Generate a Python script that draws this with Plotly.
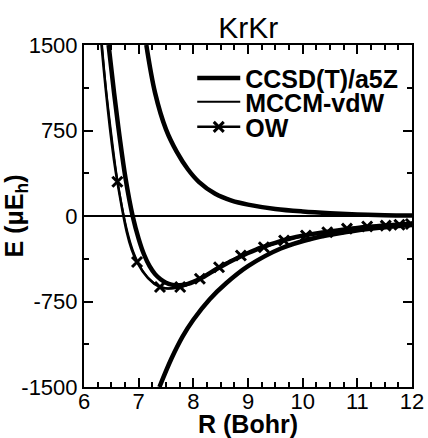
import plotly.graph_objects as go

# CCSD(T)/a5Z (thick)
R_ccsd = [6.45, 6.55, 6.65, 6.76, 6.89, 7.0, 7.1, 7.2, 7.3, 7.4, 7.5, 7.6, 7.7, 7.8, 7.9, 8.0,
          8.2, 8.4, 8.6, 8.8, 9.0, 9.25, 9.5, 9.75, 10.0, 10.5, 11.0, 11.5, 12.0]
E_ccsd = [1500, 1080, 700, 330, 0, -200, -340, -440, -510, -555, -585, -602, -608, -605, -595, -578,
          -530, -472, -418, -370, -325, -275, -235, -200, -172, -135, -105, -84, -68]

# MCCM-vdW (thin)
R_mccm = [6.33, 6.4, 6.5, 6.6, 6.7, 6.8, 6.9, 7.0, 7.1, 7.2, 7.3, 7.4, 7.5, 7.6, 7.7, 7.8, 7.9, 8.0,
          8.2, 8.4, 8.6, 8.8, 9.0, 9.25, 9.5, 9.75, 10.0, 10.5, 11.0, 11.5, 12.0]
E_mccm = [1500, 1130, 720, 350, 70, -150, -310, -420, -500, -555, -595, -620, -633, -636, -632, -620, -603, -583,
          -535, -478, -423, -373, -330, -280, -238, -203, -174, -135, -105, -84, -68]

# OW (line with x markers)
R_ow = [6.25, 6.61, 6.97, 7.39, 7.76, 8.12, 8.47, 8.87, 9.29, 9.66, 10.06, 10.45, 10.81, 11.18, 11.52, 11.77, 11.98]
E_ow = [1880, 300, -404, -623, -623, -550, -450, -347, -274, -215, -171, -142, -111, -92, -84, -77, -70]

# repulsive component (thick, no legend)
R_rep = [7.14, 7.3, 7.5, 7.7, 7.9, 8.1, 8.4, 8.7, 9.0, 9.5, 10.0, 10.5, 11.0, 11.5, 12.0]
E_rep = [1500, 1080, 760, 560, 410, 300, 195, 135, 100, 62, 40, 25, 14, 7, 4]

# attractive component (thick, no legend)
R_att = [7.38, 7.6, 7.8, 8.0, 8.3, 8.6, 9.0, 9.6, 10.2, 10.8, 11.4, 12.0]
E_att = [-1500, -1250, -1060, -910, -730, -590, -440, -285, -195, -140, -103, -78]

x_ticks = [6, 7, 8, 9, 10, 11, 12]
y_ticks = [-1500, -750, 0, 750, 1500]

FONT = "Liberation Sans, Arial, Helvetica, sans-serif"

fig = go.Figure()
fig.add_trace(go.Scatter(x=R_rep, y=E_rep, mode="lines", line=dict(color="black", width=4.5, shape="spline"),
                         showlegend=False, hoverinfo="skip"))
fig.add_trace(go.Scatter(x=R_att, y=E_att, mode="lines", line=dict(color="black", width=4.5, shape="spline"),
                         showlegend=False, hoverinfo="skip"))
fig.add_trace(go.Scatter(x=R_ccsd, y=E_ccsd, mode="lines", name="CCSD(T)/a5Z", legend="legend",
                         line=dict(color="black", width=4.5, shape="spline")))
fig.add_trace(go.Scatter(x=R_mccm, y=E_mccm, mode="lines", name="MCCM-vdW", legend="legend2",
                         line=dict(color="black", width=2, shape="spline")))
fig.add_trace(go.Scatter(x=R_ow, y=E_ow, mode="lines+markers", name="OW", legend="legend3",
                         line=dict(color="black", width=2.5, shape="spline"),
                         marker=dict(symbol="x-thin", size=10, color="black",
                                     line=dict(color="black", width=3))))

axis_common = dict(
    showline=True, linecolor="black", linewidth=2, mirror="ticks",
    ticks="inside", ticklen=9, tickwidth=2, tickcolor="black",
    showgrid=False, automargin=False,
    tickfont=dict(family=FONT, size=22, color="black"),
)

fig.update_xaxes(range=[6, 12], tickvals=x_ticks, ticktext=[str(v) for v in x_ticks],
                 minor=dict(ticks="inside", ticklen=5, tickwidth=1.5, tickcolor="black", dtick=0.25, tick0=6),
                 ticklabelstandoff=-6,
                 title=dict(text="<b>R (Bohr)</b>", font=dict(family=FONT, size=25, color="black"), standoff=0),
                 zeroline=False, **axis_common)
fig.update_yaxes(range=[-1500, 1500], tickvals=y_ticks, ticktext=[str(v) for v in y_ticks],
                 minor=dict(ticks="inside", ticklen=5, tickwidth=1.5, tickcolor="black", dtick=375, tick0=-1500),
                 title=dict(text="<b>E (μE<sub>h</sub>)</b>", font=dict(family=FONT, size=25, color="black"), standoff=0),
                 zeroline=True, zerolinecolor="black", zerolinewidth=1.5, **axis_common)

leg_common = dict(xanchor="left", x=0.33, yanchor="middle", bgcolor="rgba(0,0,0,0)",
                  font=dict(family=FONT, size=25, color="black", weight="bold"), itemwidth=43)

fig.update_layout(
    width=428, height=438,
    margin=dict(l=84, r=16, t=45, b=51),
    paper_bgcolor="white", plot_bgcolor="white",
    title=dict(text="KrKr", x=0.58, xanchor="center", yref="container", y=1 - 27 / 438, yanchor="middle",
               font=dict(family=FONT, size=30, color="black")),
    legend=dict(y=0.903, **leg_common),
    legend2=dict(y=0.833, **leg_common),
    legend3=dict(y=0.760, **leg_common),
    showlegend=True,
)

fig.write_html("out.html", config={"displayModeBar": False},
               post_script="document.body.style.margin='0';document.body.style.overflow='hidden';")
